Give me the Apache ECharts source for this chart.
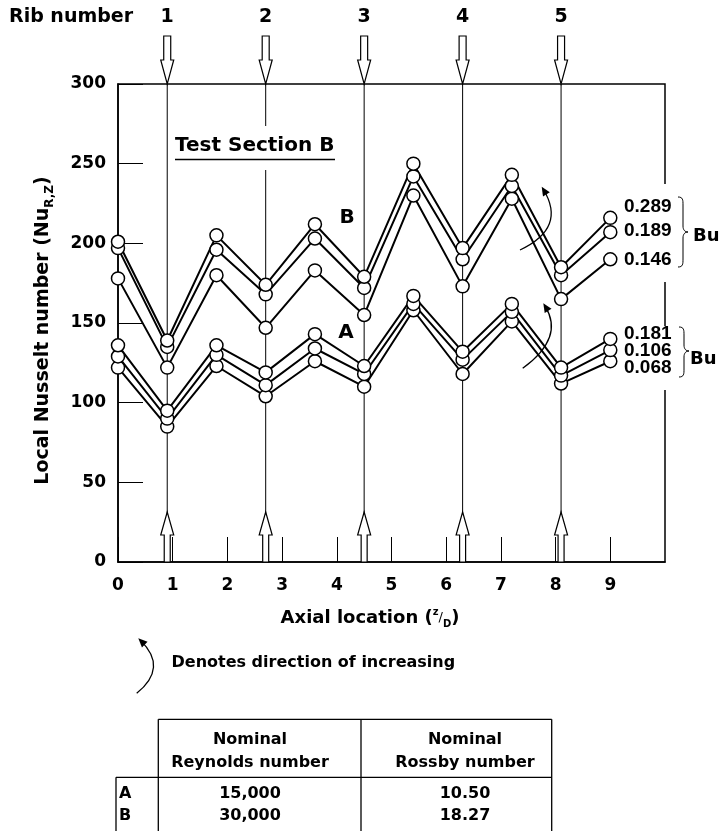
<!DOCTYPE html>
<html><head><meta charset="utf-8">
<script src="https://cdn.jsdelivr.net/npm/echarts@6/dist/echarts.min.js"></script>
<style>html,body{margin:0;padding:0;background:#fff}#c{width:722px;height:831px}</style>
</head><body><div id="c"></div><script>
// ---- data ----
const axialLocations = [0, 0.9, 1.8, 2.7, 3.6, 4.5, 5.4, 6.3, 7.2, 8.1, 9.0];
const seriesB_Bu0289 = [201, 139, 205, 174, 212, 179, 250, 197, 243, 185, 216];
const seriesB_Bu0189 = [197, 135, 196, 168, 203, 172, 242, 190, 236, 180, 207];
const seriesB_Bu0146 = [178, 122, 180, 147, 183, 155, 230, 173, 228, 165, 190];
const seriesA_Bu0181 = [136, 95, 136, 119, 143, 123, 167, 132, 162, 122, 140];
const seriesA_Bu0106 = [129, 90, 130, 111, 134, 118, 162, 127, 157, 117, 133];
const seriesA_Bu0068 = [122, 85, 123, 104, 126, 110, 158, 118, 151, 112, 126];
const ribPositions = [0.9, 2.7, 4.5, 6.3, 8.1];
const ribLabels = ['1', '2', '3', '4', '5'];
const xTickLabels = ['0', '1', '2', '3', '4', '5', '6', '7', '8', '9'];
const buLabelsB = ['0.289', '0.189', '0.146'];
const buLabelsA = ['0.181', '0.106', '0.068'];
const tableRowLabels = ['A', 'B'];
const reynoldsNumbers = ['15,000', '30,000'];
const rossbyNumbers = ['10.50', '18.27'];

// ---- chart ----
const FONT = '"DejaVu Sans", sans-serif';
const chart = echarts.init(document.getElementById('c'), null, {renderer: 'canvas'});

const seriesDefs = [
  {name: 'A Bu 0.068', values: seriesA_Bu0068},
  {name: 'A Bu 0.106', values: seriesA_Bu0106},
  {name: 'A Bu 0.181', values: seriesA_Bu0181},
  {name: 'B Bu 0.146', values: seriesB_Bu0146},
  {name: 'B Bu 0.189', values: seriesB_Bu0189},
  {name: 'B Bu 0.289', values: seriesB_Bu0289}
];
const toPairs = v => axialLocations.map((x, i) => [x, v[i]]);

const series = [];
// rib lines and arrows
series.push({
  type: 'custom', clip: false, silent: true, z: 1,
  data: ribPositions.map((x, i) => [x, i]),
  renderItem: (params, api) => {
    const x = api.value(0), i = api.value(1);
    const top = api.coord([x, 300]);
    const bot = api.coord([x, 0]);
    const cx = top[0];
    const tT = top[1];
    const b = bot[1];
    const arrowStyle = {fill: '#fff', stroke: '#000', lineWidth: 1.2};
    return {
      type: 'group',
      children: [
        {type: 'line', shape: {x1: cx, y1: tT, x2: cx, y2: b}, style: {stroke: '#000', lineWidth: 1}},
        {type: 'polygon', shape: {points: [[cx - 3.5, tT - 48], [cx + 3.5, tT - 48], [cx + 3.5, tT - 24], [cx + 6.5, tT - 24], [cx, tT], [cx - 6.5, tT - 24], [cx - 3.5, tT - 24]]}, style: arrowStyle},
        {type: 'polygon', shape: {points: [[cx - 3, b], [cx + 3, b], [cx + 3, b - 27], [cx + 6.5, b - 27], [cx, b - 50], [cx - 6.5, b - 27], [cx - 3, b - 27]]}, style: arrowStyle},
        {type: 'text', style: {text: ribLabels[i], x: cx, y: tT - 67, align: 'center', verticalAlign: 'middle', textAlign: 'center', textVerticalAlign: 'middle', font: 'bold 19px ' + FONT, fill: '#000'}}
      ]
    };
  }
});
seriesDefs.forEach(d => {
  series.push({
    name: d.name, type: 'line', data: toPairs(d.values), showSymbol: false, silent: true, z: 2,
    lineStyle: {color: '#000', width: 2}
  });
});
seriesDefs.forEach((d, k) => {
  series.push({
    name: d.name, type: 'scatter', data: toPairs(d.values), symbol: 'circle', symbolSize: 13, silent: true, z: 3,
    itemStyle: {color: '#fff', borderColor: '#000', borderWidth: 1.5, opacity: 1}
  });
});

// ---- annotations ----
function curvedArrow(sx, sy, cx, cy, tx, ty) {
  const dx = tx - cx, dy = ty - cy, L = Math.hypot(dx, dy);
  const ux = dx / L, uy = dy / L, nx = -uy, ny = ux;
  const hl = 9, hw = 4;
  return [
    {type: 'bezierCurve', z: 100, shape: {x1: sx, y1: sy, cpx1: cx, cpy1: cy, x2: tx - ux * 3, y2: ty - uy * 3}, style: {stroke: '#000', lineWidth: 1.3, fill: null}},
    {type: 'polygon', z: 100, shape: {points: [[tx, ty], [tx - ux * hl + nx * hw, ty - uy * hl + ny * hw], [tx - ux * hl - nx * hw, ty - uy * hl - ny * hw]]}, style: {fill: '#000'}}
  ];
}
function txt(text, x, y, font, align) {
  return {type: 'text', z: 101, style: {text: text, x: x, y: y, font: font, fill: '#000', align: align || 'left', textAlign: align || 'left', verticalAlign: 'middle', textVerticalAlign: 'middle'}};
}
function seg(x1, y1, x2, y2, w) {
  return {type: 'line', z: 100, shape: {x1, y1, x2, y2}, style: {stroke: '#000', lineWidth: w || 1.3}};
}
function bez(x1, y1, c1x, c1y, c2x, c2y, x2, y2) {
  return {type: 'bezierCurve', z: 101, shape: {x1, y1, cpx1: c1x, cpy1: c1y, cpx2: c2x, cpy2: c2y, x2, y2}, style: {stroke: '#000', lineWidth: 1, fill: null}};
}
function brace(x, y1, y2, ym) {
  return [
    bez(x, y1, x + 5, y1, x + 5, y1 + 3, x + 5, y1 + 8),
    seg(x + 5, y1 + 8, x + 5, ym - 6, 1),
    bez(x + 5, ym - 6, x + 5, ym - 2, x + 7, ym, x + 10, ym),
    bez(x + 10, ym, x + 7, ym, x + 5, ym + 2, x + 5, ym + 6),
    seg(x + 5, ym + 6, x + 5, y2 - 8, 1),
    bez(x + 5, y2 - 8, x + 5, y2 - 3, x + 5, y2, x, y2)
  ];
}

const BOLD = s => 'bold ' + s + 'px ' + FONT;
const NUMF = 'bold 19px "Liberation Sans", Arial, sans-serif';
const graphics = [];
// Rib number header
graphics.push(txt('Rib number', 9, 17, BOLD(19)));
// Test Section B
graphics.push({type: 'rect', z: 99, shape: {x: 172, y: 126, width: 168, height: 44}, style: {fill: '#fff'}});
graphics.push(txt('Test Section B', 175, 146, BOLD(20)));
graphics.push(seg(175, 159.5, 335, 159.5, 1.5));
// Group labels
graphics.push(txt('B', 347, 218, BOLD(20), 'center'));
graphics.push(txt('A', 346, 333, BOLD(20), 'center'));
// direction arrows in plot
graphics.push(...curvedArrow(520, 250, 567, 228, 541.7, 186.7));
graphics.push(...curvedArrow(522.7, 368.3, 565, 337.6, 543.3, 303.3));
// Bu labels
graphics.push({type: 'rect', z: 99, shape: {x: 621, y: 184, width: 70, height: 98}, style: {fill: '#fff'}});
graphics.push({type: 'rect', z: 99, shape: {x: 621, y: 326, width: 70, height: 64}, style: {fill: '#fff'}});
const buBY = [206.7, 231, 260], buAY = [334, 350.5, 367.5];
buLabelsB.forEach((t, i) => graphics.push(txt(t, 624, buBY[i], NUMF)));
buLabelsA.forEach((t, i) => graphics.push(txt(t, 624, buAY[i], NUMF)));
graphics.push(...brace(678, 197, 267, 232));
graphics.push(...brace(679, 327, 377, 351));
graphics.push(txt('Bu', 693, 236, BOLD(18)));
graphics.push(txt('Bu', 690, 359, BOLD(18)));
// direction legend
graphics.push(...curvedArrow(136.7, 693.3, 168.4, 667.6, 138.3, 638.3));
graphics.push(txt('Denotes direction of increasing', 171.5, 663.3, BOLD(16)));
// table
graphics.push(seg(158.3, 719.3, 551.7, 719.3));
graphics.push(seg(116, 777.3, 551.7, 777.3));
graphics.push(seg(158.3, 719.3, 158.3, 831));
graphics.push(seg(361, 719.3, 361, 831));
graphics.push(seg(551.7, 719.3, 551.7, 831));
graphics.push(seg(116, 777.3, 116, 831));
graphics.push(txt('Nominal', 250, 740, BOLD(16), 'center'));
graphics.push(txt('Reynolds number', 250, 763.3, BOLD(16), 'center'));
graphics.push(txt('Nominal', 465, 740, BOLD(16), 'center'));
graphics.push(txt('Rossby number', 465, 763.3, BOLD(16), 'center'));
const rowY = [794, 815.7];
tableRowLabels.forEach((t, i) => {
  graphics.push(txt(t, 119, rowY[i], BOLD(16)));
  graphics.push(txt(reynoldsNumbers[i], 250, rowY[i], BOLD(16), 'center'));
  graphics.push(txt(rossbyNumbers[i], 465, rowY[i], BOLD(16), 'center'));
});

const labelStyle = {color: '#000', fontFamily: FONT, fontWeight: 'bold', fontSize: 17};
chart.setOption({
  animation: false,
  backgroundColor: '#fff',
  grid: {left: 118, top: 84, width: 547, height: 478, show: true, borderColor: '#000', borderWidth: 1.5, backgroundColor: 'transparent'},
  xAxis: {
    type: 'value', min: 0, max: 10, interval: 1,
    axisLine: {show: true, onZero: false, lineStyle: {color: '#000', width: 1.5}},
    axisTick: {show: true, inside: true, length: 25, lineStyle: {color: '#000', width: 1}},
    axisLabel: Object.assign({margin: 15, showMinLabel: true, showMaxLabel: false, formatter: v => (xTickLabels[Math.round(v)] !== undefined && Math.abs(v - Math.round(v)) < 1e-6) ? xTickLabels[Math.round(v)] : ''}, labelStyle),
    splitLine: {show: false},
    name: '{a|Axial location (}{z|z}{s|/}{d|D}{a|)}',
    nameLocation: 'middle', nameGap: 45,
    nameTextStyle: {
      padding: [0, 43, 0, 0],
      rich: {
        a: {fontFamily: FONT, fontWeight: 'bold', fontSize: 18, lineHeight: 22, color: '#000'},
        z: {fontFamily: FONT, fontWeight: 'bold', fontSize: 10, lineHeight: 14, verticalAlign: 'top', color: '#000'},
        s: {fontFamily: FONT, fontSize: 13, lineHeight: 22, color: '#000'},
        d: {fontFamily: FONT, fontWeight: 'bold', fontSize: 10, lineHeight: 14, verticalAlign: 'bottom', color: '#000'}
      }
    }
  },
  yAxis: {
    type: 'value', min: 0, max: 300, interval: 50,
    axisLine: {show: true, lineStyle: {color: '#000', width: 1.5}},
    axisTick: {show: true, inside: true, length: 25, lineStyle: {color: '#000', width: 1}},
    axisLabel: Object.assign({margin: 12}, labelStyle),
    splitLine: {show: false},
    name: '{a|Local Nusselt number (Nu}{s|R,Z}{a|)}',
    nameLocation: 'middle', nameGap: 62, nameRotate: 90,
    nameTextStyle: {
      padding: [0, 15, 0, 0],
      rich: {
        a: {fontFamily: FONT, fontWeight: 'bold', fontSize: 19, lineHeight: 26, color: '#000'},
        s: {fontFamily: FONT, fontWeight: 'bold', fontSize: 12, lineHeight: 14, verticalAlign: 'bottom', color: '#000'}
      }
    }
  },
  series: series,
  graphic: {elements: graphics}
});
</script></body></html>
